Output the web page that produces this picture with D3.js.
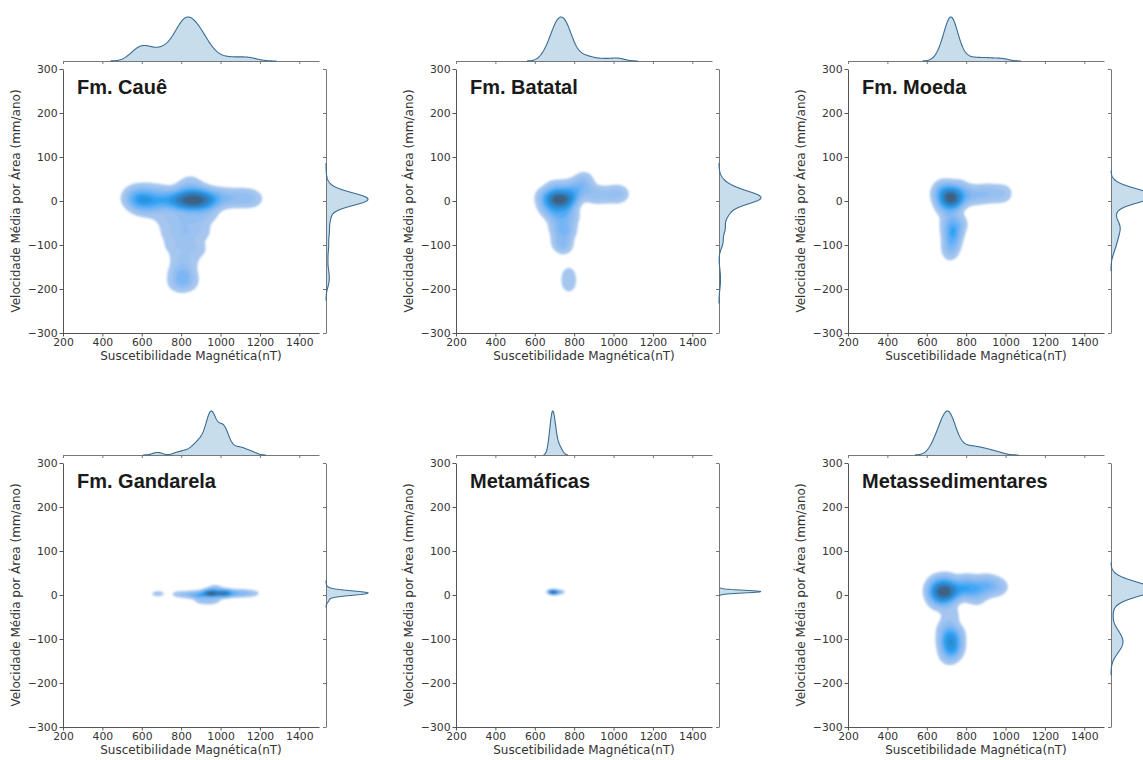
<!DOCTYPE html>
<html>
<head>
<meta charset="utf-8">
<script src="https://cdn.jsdelivr.net/npm/d3@7"></script>
<style>
  body { margin: 0; background: #fff; }
  text { font-family: "DejaVu Sans", sans-serif; }
</style>
</head>
<body>
<div id="chart"></div>
<script>
const W = 1143, H = 760;

// panel titles and axes
const titles = ["Fm. Cauê", "Fm. Batatal", "Fm. Moeda", "Fm. Gandarela", "Metamáficas", "Metassedimentares"];
const xTicks = [200, 400, 600, 800, 1000, 1200, 1400];
const yTicks = [-300, -200, -100, 0, 100, 200, 300];
const xLabel = "Suscetibilidade Magnética(nT)";
const yLabel = "Velocidade Média por Área (mm/ano)";

// weighted samples: [susceptibility, velocity, weight]
const caue = [
  [780, 2, 5], [820, 3, 6], [850, 2, 6.5], [880, 3, 6], [910, 2, 5], [940, 4, 3.5],
  [560, 5, 2.2], [590, 3, 3.2], [620, 5, 3], [650, 0, 2.2], [690, 2, 2.2], [730, 3, 3],
  [560, 22, 1], [620, 25, 1], [690, 22, 1], [590, -15, 1], [650, -20, 1],
  [980, 8, 2], [1030, 8, 1.5], [1080, 8, 1.5], [1130, 8, 1.5], [1165, 6, 1],
  [845, 45, 0.9], [820, 25, 1.5], [880, 22, 1.5],
  [720, -40, 1.2], [800, -40, 1.6], [880, -40, 1.6], [940, -30, 1],
  [740, -70, 1.2], [820, -70, 1.6], [900, -70, 1.2],
  [760, -100, 1.2], [840, -100, 1.3], [890, -110, 0.8],
  [790, -130, 1.1], [840, -135, 0.9],
  [790, -160, 1.5], [820, -165, 1.5], [790, -185, 2], [830, -185, 1.2]
];
const batatal = [
  [690, 5, 5], [720, 5, 7], [750, 3, 5], [780, 8, 3],
  [650, 10, 2], [660, -12, 1.5], [700, 28, 1.5], [760, 28, 1.5], [700, -18, 1.5], [760, -15, 1.5],
  [820, 35, 1.5], [850, 48, 1.2], [860, 25, 1], [800, 20, 1.5],
  [900, 15, 1.2], [950, 15, 1], [1000, 17, 1], [1035, 17, 1],
  [700, -30, 1.5], [740, -35, 1.5], [780, -35, 1.2],
  [720, -60, 1.8], [760, -65, 2], [730, -90, 1.5], [745, -100, 1.2],
  [770, -160, 0.5], [770, -178, 0.6], [770, -195, 0.5]
];
const moeda = [
  [700, 8, 5], [725, 8, 7], [750, 5, 4],
  [660, 15, 1.5], [680, -10, 1.5], [700, 28, 1.5], [760, 28, 1.5], [670, 28, 1],
  [800, 15, 2], [850, 15, 1.5], [900, 18, 1.5], [950, 18, 1.2], [995, 18, 1],
  [720, -30, 1.5], [705, -55, 1.2], [765, -50, 1.2], [735, -60, 2], [730, -75, 2.2], [725, -90, 1.8],
  [720, -105, 1.2], [715, -118, 0.7]
];
const gandarela = [
  [670, 4, 0.6], [690, 4, 0.6],
  [780, 3, 1], [820, 2, 1.5], [860, 2, 2.5], [890, 0, 3], [920, 4, 3.5], [945, 5, 6.5], [955, 5, 6.5],
  [980, 4, 3], [1000, 5, 3.5], [1015, 5, 6], [1035, 5, 4], [1070, 5, 2], [1100, 5, 2],
  [1130, 5, 1.5], [1165, 5, 1],
  [900, -12, 1.2], [940, -14, 1], [970, -10, 1], [975, 18, 0.8], [960, 14, 1]
];
const metamaficas = [
  [680, 8, 3], [690, 8, 5], [700, 7, 4], [720, 8, 1.5], [735, 8, 0.8]
];
const metassed = [
  [670, 8, 5], [695, 8, 5], [720, 10, 3],
  [640, 10, 2], [650, 28, 1.5], [700, 32, 1.5], [650, -12, 1.5], [700, -15, 1],
  [770, 15, 2.5], [820, 15, 2.5], [870, 18, 2], [920, 20, 1.5], [965, 20, 1.2],
  [800, 32, 1], [900, 32, 0.8], [850, -5, 1],
  [715, -95, 3], [720, -110, 4], [725, -125, 2.5], [700, -75, 1.5], [745, -85, 1], [710, -140, 1],
  [720, -45, 1]
];
const samples = [caue, batatal, moeda, gandarela, metamaficas, metassed];
// kde bandwidth per panel [x, y]
const bandwidths = [[40, 14], [30, 13], [28, 14], [22, 5], [12, 3], [34, 14]];

// --- husl helpers, for seaborn's colour ramp ---
const M = [[3.240969941904521, -1.537383177570093, -0.498610760293],
  [-0.96924363628087, 1.87596750150772, 0.041555057407175],
  [0.055630079696993, -0.20397695888897, 1.056971514242878]];
const MI = [[0.41239079926595, 0.35758433938387, 0.18048078840183],
  [0.21263900587151, 0.71516867876775, 0.072192315360733],
  [0.019330818715591, 0.11919477979462, 0.95053215224966]];
const refU = 0.19783000664283, refV = 0.46831999493879, kappa = 903.2962962, epsilon = 0.0088564516;

function maxChroma(L, Hd) {
  const hrad = Hd / 180 * Math.PI;
  const sub1 = Math.pow(L + 16, 3) / 1560896;
  const sub2 = sub1 > epsilon ? sub1 : L / kappa;
  let min = Infinity;
  M.forEach(([m1, m2, m3]) => {
    [0, 1].forEach(t => {
      const top1 = (284517 * m1 - 94839 * m3) * sub2;
      const top2 = (838422 * m3 + 769860 * m2 + 731718 * m1) * L * sub2 - 769860 * t * L;
      const bottom = (632260 * m3 - 126452 * m2) * sub2 + 126452 * t;
      const len = (top2 / bottom) / (Math.sin(hrad) - (top1 / bottom) * Math.cos(hrad));
      if (len >= 0) min = Math.min(min, len);
    });
  });
  return min;
}
function huslToRgb(Hd, S, L) {
  const C = maxChroma(L, Hd) / 100 * S;
  const hrad = Hd / 180 * Math.PI;
  const u = Math.cos(hrad) * C, v = Math.sin(hrad) * C;
  const varU = u / (13 * L) + refU, varV = v / (13 * L) + refV;
  const Y = L <= 8 ? L / kappa : Math.pow((L + 16) / 116, 3);
  const X = -(9 * Y * varU) / ((varU - 4) * varV - varU * varV);
  const Z = (9 * Y - 15 * varV * Y - varV * X) / (3 * varV);
  const rgb = M.map(r => {
    const c = r[0] * X + r[1] * Y + r[2] * Z;
    const g = c <= 0.0031308 ? 12.92 * c : 1.055 * Math.pow(c, 1 / 2.4) - 0.055;
    return Math.round(Math.max(0, Math.min(1, g)) * 255);
  });
  return d3.rgb(rgb[0], rgb[1], rgb[2]);
}
function rgbToHusl(col) {
  const lin = [col.r, col.g, col.b].map(c => {
    c /= 255;
    return c > 0.04045 ? Math.pow((c + 0.055) / 1.055, 2.4) : c / 12.92;
  });
  const [X, Y, Z] = MI.map(r => r[0] * lin[0] + r[1] * lin[1] + r[2] * lin[2]);
  const L = Y <= epsilon ? Y * kappa : 116 * Math.cbrt(Y) - 16;
  const d = X + 15 * Y + 3 * Z;
  const u = 13 * L * (4 * X / d - refU), v = 13 * L * (9 * Y / d - refV);
  let Hd = Math.atan2(v, u) * 180 / Math.PI;
  if (Hd < 0) Hd += 360;
  return [Hd, Math.hypot(u, v) / maxChroma(L, Hd) * 100, L];
}

const baseColor = d3.rgb("#1f77b4");
const [hue, sat] = rgbToHusl(baseColor);
const nRamp = Math.floor(1.15 * 256);
const ramp = d3.range(256).map(k => {
  const xx = -1 + 2 * k / (nRamp - 1);
  return huslToRgb(hue, sat * Math.cos(xx), 35 + 45 * k / 255);
}).reverse();
const cmap = t => ramp[Math.max(0, Math.min(255, Math.floor(t * 256)))];

// --- layout ---
const colLeft = [63, 456, 848], rowTop = [69, 463];
const mainW = 256, mainH = 264;
const margGap = 8, margPeak = 44, rMargGap = 7, rMargPeak = 42;

const x = d3.scaleLinear().domain([200, 1500]).range([0, mainW]);
const y = d3.scaleLinear().domain([-300, 300]).range([mainH, 0]);

const svg = d3.select("#chart").append("svg")
  .attr("width", W)
  .attr("height", H);

svg.append("defs").append("filter")
  .attr("id", "soft")
  .append("feGaussianBlur")
  .attr("stdDeviation", 0.9);

const gauss = (v, c, b) => Math.exp(-0.5 * ((v - c) / b) * ((v - c) / b));

titles.forEach((title, p) => {
  const left = colLeft[p % 3], top = rowTop[Math.floor(p / 3)];
  const pts = samples[p];
  const [bx, by] = bandwidths[p];
  const g = svg.append("g").attr("transform", `translate(${left},${top})`);

  // density on a pixel grid
  const nx = mainW + 1, ny = mainH + 1;
  const ex = d3.range(nx).map(i => pts.map(d => gauss(x.invert(i), d[0], bx)));
  const ey = d3.range(ny).map(j => pts.map(d => gauss(y.invert(j), d[1], by)));
  const values = new Float64Array(nx * ny);
  for (let j = 0; j < ny; j++) {
    for (let i = 0; i < nx; i++) {
      let s = 0;
      for (let k = 0; k < pts.length; k++) s += pts[k][2] * ex[i][k] * ey[j][k];
      values[j * nx + i] = s;
    }
  }

  // iso-proportion levels like seaborn (thresh .05, 10 levels)
  const sorted = Array.from(values).sort((a, b) => b - a);
  const total = d3.sum(sorted);
  let cum = 0;
  const cumArr = sorted.map(v => (cum += v) / total);
  const levels = d3.range(10).map(i => {
    const q = 0.05 + i * 0.95 / 9;
    const idx = d3.bisectLeft(cumArr, 1 - q - 1e-12);
    return sorted[Math.min(idx, sorted.length - 1)];
  });
  const bands = d3.contours().size([nx, ny]).thresholds(levels.slice(0, 9))(values);

  g.append("g")
    .attr("filter", "url(#soft)")
    .selectAll("path")
    .data(bands)
    .join("path")
    .attr("d", d3.geoPath())
    .attr("fill", (d, i) => cmap(((levels[i] + levels[i + 1]) / 2 - levels[0]) / (levels[9] - levels[0])));

  // top marginal
  const xlo = d3.min(pts, d => d[0]) - 3 * bx, xhi = d3.max(pts, d => d[0]) + 3 * bx;
  const mx = d3.range(0, mainW + 0.01, 0.5).map(px => x.invert(px))
    .filter(v => v >= xlo && v <= xhi)
    .map(v => [v, d3.sum(pts, d => d[2] * gauss(v, d[0], bx))]);
  const mxs = d3.scaleLinear().domain([0, d3.max(mx, d => d[1])]).range([-margGap, -margGap - margPeak]);
  g.append("path")
    .datum(mx)
    .attr("d", d3.area().x(d => x(d[0])).y0(-margGap).y1(d => mxs(d[1])))
    .attr("fill", baseColor).attr("fill-opacity", 0.25)
    .attr("stroke", "none");
  g.append("g")
    .attr("transform", `translate(0,${-margGap})`)
    .call(d3.axisBottom(x).tickValues(xTicks).tickFormat("").tickSize(3).tickSizeOuter(0))
    .call(a => a.selectAll("path,line").attr("stroke", "#777"));
  g.append("path")
    .datum(mx)
    .attr("d", d3.line().x(d => x(d[0])).y(d => mxs(d[1])))
    .attr("fill", "none").attr("stroke", "#3a6b92").attr("stroke-width", 1.1);

  // right marginal
  const ylo = d3.min(pts, d => d[1]) - 3 * by, yhi = d3.max(pts, d => d[1]) + 3 * by;
  const my = d3.range(0, mainH + 0.01, 0.5).map(py => y.invert(py))
    .filter(v => v >= ylo && v <= yhi)
    .map(v => [v, d3.sum(pts, d => d[2] * gauss(v, d[1], by))]);
  const rx0 = mainW + rMargGap;
  const mys = d3.scaleLinear().domain([0, d3.max(my, d => d[1])]).range([rx0, rx0 + rMargPeak]);
  g.append("path")
    .datum(my)
    .attr("d", d3.area().y(d => y(d[0])).x0(rx0).x1(d => mys(d[1])))
    .attr("fill", baseColor).attr("fill-opacity", 0.25)
    .attr("stroke", "none");
  g.append("g")
    .attr("transform", `translate(${rx0},0)`)
    .call(d3.axisLeft(y).tickValues(yTicks).tickFormat("").tickSize(3).tickSizeOuter(0))
    .call(a => a.selectAll("path,line").attr("stroke", "#777"));
  g.append("path")
    .datum(my)
    .attr("d", d3.line().y(d => y(d[0])).x(d => mys(d[1])))
    .attr("fill", "none").attr("stroke", "#3a6b92").attr("stroke-width", 1.1);

  // main axes
  g.append("g")
    .attr("transform", `translate(0,${mainH})`)
    .call(d3.axisBottom(x).tickValues(xTicks).tickFormat(d3.format("d")).tickSize(3.5).tickSizeOuter(0).tickPadding(2))
    .call(a => a.selectAll("path,line").attr("stroke", "#555"))
    .call(a => a.selectAll("text").attr("fill", "#333").style("font-size", "10.8px"));
  g.append("g")
    .call(d3.axisLeft(y).tickValues(yTicks).tickFormat(d3.format("d")).tickSize(3.5).tickSizeOuter(0).tickPadding(2))
    .call(a => a.selectAll("path,line").attr("stroke", "#555"))
    .call(a => a.selectAll("text").attr("fill", "#333").style("font-size", "10.8px"));

  g.append("text")
    .attr("x", mainW / 2).attr("y", mainH + 27)
    .attr("text-anchor", "middle")
    .attr("fill", "#333").style("font-size", "12px")
    .text(xLabel);
  g.append("text")
    .attr("transform", `translate(-43,${mainH / 2}) rotate(-90)`)
    .attr("text-anchor", "middle")
    .attr("fill", "#333").style("font-size", "12px")
    .text(yLabel);

  g.append("text")
    .attr("x", 14).attr("y", 25)
    .attr("fill", "#1a1a1a")
    .style("font-family", "'Liberation Sans', Arial, sans-serif")
    .style("font-weight", "bold")
    .style("font-size", "20px")
    .text(title);
});
</script>
</body>
</html>
